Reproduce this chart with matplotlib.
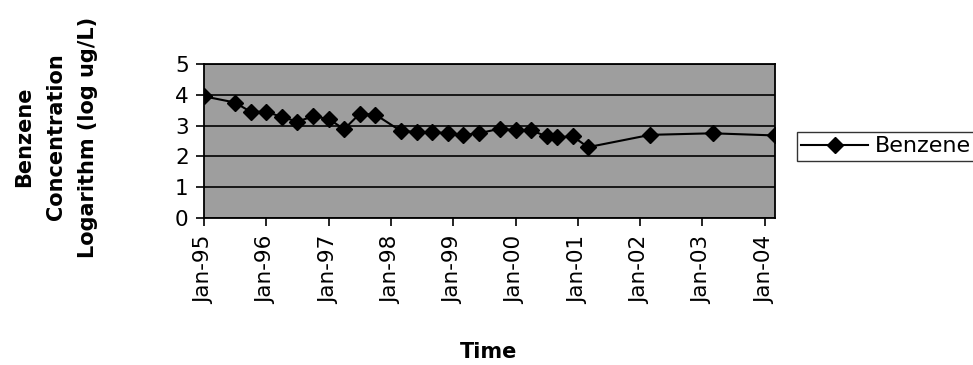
import matplotlib
matplotlib.use("Agg")
import matplotlib.pyplot as plt
import matplotlib.dates as mdates
import numpy as np
from datetime import datetime

dates = ["1995-01", "1995-07", "1995-10", "1996-01", "1996-04", "1996-07",
         "1996-10", "1997-01", "1997-04", "1997-07", "1997-10", "1998-03",
         "1998-06", "1998-09", "1998-12", "1999-03", "1999-06", "1999-10",
         "2000-01", "2000-04", "2000-07", "2000-09", "2000-12", "2001-03",
         "2002-03", "2003-03", "2004-03"]
benzene = [3.95, 3.75, 3.45, 3.45, 3.28, 3.13,
           3.30, 3.22, 2.88, 3.38, 3.36, 2.82,
           2.80, 2.78, 2.76, 2.70, 2.75, 2.90,
           2.85, 2.85, 2.65, 2.62, 2.65, 2.30,
           2.70, 2.75, 2.68]
yticks = [0, 1, 2, 3, 4, 5]
tick_years = list(range(1995, 2005))

x = [datetime.strptime(d, "%Y-%m") for d in dates]

fig = plt.figure(figsize=(9.73, 3.65), dpi=100)
ax = fig.add_axes([204/973, 1-218/365, (775-204)/973, (218-64)/365])
ax.set_facecolor("#9e9e9e")

for yv in yticks:
    ax.axhline(yv, color="black", lw=1.2, zorder=1)

ax.plot(x, benzene, color="black", lw=1.5, marker="D", markersize=8,
        label="Benzene", zorder=3)

ax.set_ylim(0, 5)
ax.set_yticks(yticks)
ax.set_xlim(x[0], x[-1])
ax.set_xticks([datetime(y, 1, 1) for y in tick_years])
ax.xaxis.set_major_formatter(mdates.DateFormatter("%b-%y"))
for lab in ax.get_xticklabels():
    lab.set_rotation(90)
ax.tick_params(axis="both", labelsize=15.5, length=6, width=1.2, direction="out")
ax.tick_params(axis="y", pad=5)
ax.tick_params(axis="x", pad=7)
for s in ax.spines.values():
    s.set_linewidth(1.3)

fig.text(489/973, 1-352/365, "Time", fontsize=15, fontweight="bold",
         ha="center", va="center")
fig.text(56/973, 1-137/365, "Benzene\nConcentration\nLogarithm (log ug/L)",
         fontsize=15, fontweight="bold", rotation=90, ha="center", va="center",
         multialignment="center", linespacing=1.75)

leg = fig.legend(loc="upper left", bbox_to_anchor=(797/973, 1-132/365),
                 fontsize=16, frameon=True, fancybox=False, edgecolor="black",
                 handlelength=3.0, borderpad=0.2, handletextpad=0.3,
                 borderaxespad=0)
leg.get_frame().set_linewidth(1.0)

fig.savefig("out.png", dpi=100)
